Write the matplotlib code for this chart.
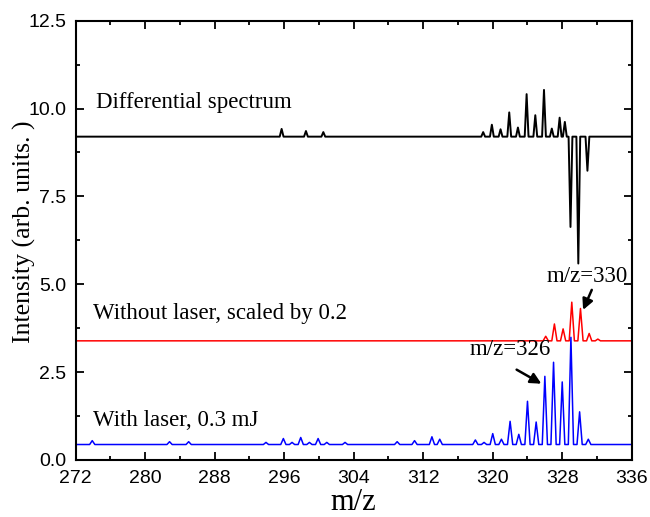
import numpy as np
import matplotlib
matplotlib.use("Agg")
from matplotlib import pyplot as plt
from matplotlib.ticker import MultipleLocator, FormatStrFormatter

# peak lists (m/z, top value) for each trace, plus the flat baseline level
diff_base = 9.20
diff_mz = [295.7, 298.5, 300.5, 318.9, 319.9, 320.9, 321.9, 322.9, 323.9,
           324.9, 325.9, 326.8, 327.7, 328.3, 328.95, 329.85, 330.9]
diff_val = [9.42, 9.36, 9.33, 9.33, 9.54, 9.41, 9.89, 9.46, 10.41,
            9.81, 10.53, 9.43, 9.74, 9.62, 6.63, 5.59, 8.23]

nolaser_base = 3.39
nolaser_mz = [326.1, 327.1, 328.1, 329.1, 330.1, 331.1, 332.1]
nolaser_val = [3.52, 3.87, 3.73, 4.49, 4.31, 3.60, 3.44]

laser_base = 0.44
laser_mz = [273.9, 282.8, 285.0, 293.9, 295.9, 296.9, 297.9, 298.9, 299.9,
            300.9, 303.0, 309.0, 311.0, 313.0, 313.9, 318.0, 319.0,
            320.0, 321.0, 322.0, 323.0, 324.0, 325.0, 326.0, 327.0,
            328.0, 329.0, 330.0, 331.0]
laser_val = [0.55, 0.52, 0.52, 0.50, 0.61, 0.50, 0.64, 0.50, 0.61,
             0.50, 0.50, 0.52, 0.55, 0.66, 0.59, 0.57, 0.50,
             0.75, 0.59, 1.10, 0.73, 1.67, 1.08, 2.38, 2.78,
             2.22, 3.49, 1.37, 0.59]

XMIN, XMAX = 272, 336


def trace(base, centres, tops, hw):
    # baseline with one sharp peak (or dip) per listed centre
    xs = [XMIN]
    ys = [base]
    for c, t in zip(centres, tops):
        xs += [c - hw, c, c + hw]
        ys += [base, t, base]
    xs.append(XMAX)
    ys.append(base)
    return np.array(xs), np.array(ys)


serif = ['Liberation Serif', 'DejaVu Serif']
plt.rcParams['font.family'] = ['Liberation Sans', 'DejaVu Sans']

fig = plt.figure(figsize=(6.5, 5.17), dpi=100)
ax = fig.add_axes([0.1165, 0.1103, 0.8554, 0.8497])

x, y = trace(diff_base, diff_mz, diff_val, 0.22)
ax.plot(x, y, color='black', lw=1.4)
x, y = trace(nolaser_base, nolaser_mz, nolaser_val, 0.3)
ax.plot(x, y, color='#ff0000', lw=1.1)
x, y = trace(laser_base, laser_mz, laser_val, 0.3)
ax.plot(x, y, color='#0000ff', lw=1.1)

ax.set_xlim(XMIN, XMAX)
ax.set_ylim(0, 12.5)
ax.xaxis.set_major_locator(MultipleLocator(8))
ax.xaxis.set_minor_locator(MultipleLocator(4))
ax.yaxis.set_major_locator(MultipleLocator(2.5))
ax.yaxis.set_minor_locator(MultipleLocator(1.25))
ax.yaxis.set_major_formatter(FormatStrFormatter('%.1f'))
ax.tick_params(which='both', direction='in', top=True, right=True,
               width=1.3, labelsize=14)
ax.tick_params(which='major', length=6, pad=7)
ax.tick_params(which='minor', length=3.2)
for sp in ax.spines.values():
    sp.set_linewidth(1.5)

ax.set_xlabel('m/z', family=serif, fontsize=22, va='baseline')
ax.xaxis.set_label_coords(0.5, -0.1138)
ax.set_ylabel('Intensity (arb. units. )', family=serif, fontsize=18.5,
              va='center')
ax.yaxis.set_label_coords(-0.093, 0.52)

txt = dict(family=serif, fontsize=16.5, va='center')
ax.text(274.3, 10.18, 'Differential spectrum', **txt)
ax.text(274.0, 4.18, 'Without laser, scaled by 0.2', **txt)
ax.text(274.0, 1.12, 'With laser, 0.3 mJ', **txt)

arrow = dict(arrowstyle='-|>', color='black', lw=1.8, mutation_scale=16,
             shrinkA=0, shrinkB=0)
ax.annotate('', xy=(330.4, 4.27), xytext=(331.4, 4.84), arrowprops=arrow)
ax.annotate('', xy=(325.6, 2.17), xytext=(322.75, 2.57), arrowprops=arrow)
ax.text(330.85, 5.22, 'm/z=330', ha='center', **txt)
ax.text(321.97, 3.13, 'm/z=326', ha='center', **txt)

fig.savefig('out.png', dpi=100)
